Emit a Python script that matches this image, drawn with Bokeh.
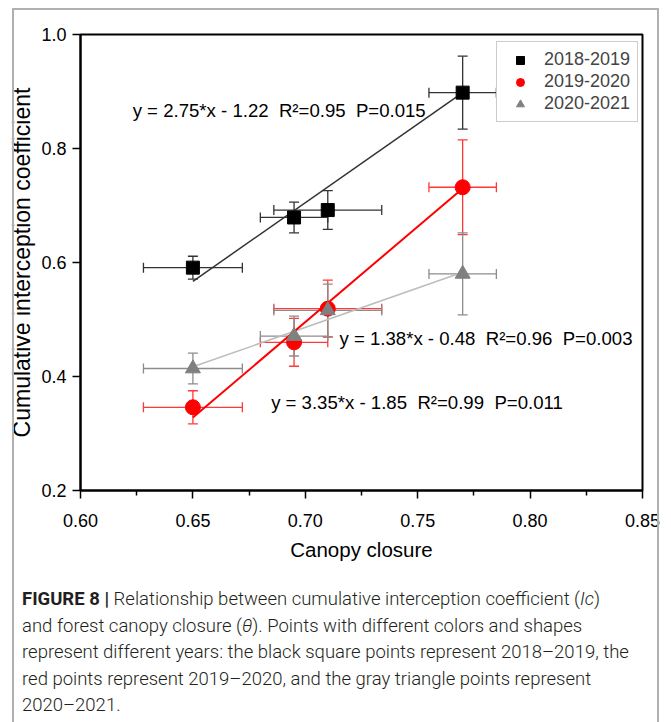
from bokeh.plotting import figure
from bokeh.models import (ColumnDataSource, Whisker, TeeHead, Label, Legend, LegendItem,
                          Div, Range1d, FixedTicker, NumeralTickFormatter)
from bokeh.layouts import column
from bokeh.embed import file_html
from bokeh.resources import INLINE

# ---------------- data ----------------
closure = [0.65, 0.695, 0.71, 0.77]
closure_err = [0.022, 0.015, 0.024, 0.015]

ic_1819 = [0.591, 0.679, 0.692, 0.898]
ic_1819_err = [0.020, 0.027, 0.034, 0.064]
ic_1920 = [0.346, 0.460, 0.519, 0.732]
ic_1920_err = [0.029, 0.042, 0.050, 0.083]
ic_2021 = [0.414, 0.471, 0.516, 0.580]
ic_2021_err = [0.027, 0.035, 0.046, 0.072]

fit_x = [0.65, 0.77]
fit_1819 = [0.567, 0.898]
fit_1920 = [0.328, 0.730]
fit_2021 = [0.417, 0.583]

series_names = ["2018-2019", "2019-2020", "2020-2021"]
NB = "\u00a0"
equations = ["y = 2.75*x - 1.22" + NB * 2 + "R\u00b2=0.95" + NB * 2 + "P=0.015",
             "y = 3.35*x - 1.85" + NB * 2 + "R\u00b2=0.99" + NB * 2 + "P=0.011",
             "y = 1.38*x - 0.48" + NB * 2 + "R\u00b2=0.96" + NB * 2 + "P=0.003"]

x_ticks = [0.60, 0.65, 0.70, 0.75, 0.80, 0.85]
x_minor = [0.625, 0.675, 0.725, 0.775, 0.825]
y_ticks = [0.2, 0.4, 0.6, 0.8, 1.0]

# ---------------- styles ----------------
FONT = "Liberation Sans"
W, H = 671, 580

p = figure(width=W, height=H, x_range=Range1d(0.6, 0.85), y_range=Range1d(0.2, 1.0),
           output_backend="svg", toolbar_location=None,
           min_border_left=80, min_border_right=29, min_border_top=34, min_border_bottom=90)
p.grid.visible = False
p.outline_line_color = "black"
p.outline_line_width = 2
p.background_fill_color = "white"
p.border_fill_color = "white"

p.xaxis.ticker = FixedTicker(ticks=x_ticks, minor_ticks=x_minor)
p.yaxis.ticker = FixedTicker(ticks=y_ticks, minor_ticks=[])
p.xaxis.formatter = NumeralTickFormatter(format="0.00")
p.yaxis.formatter = NumeralTickFormatter(format="0.0")
for ax in (p.xaxis, p.yaxis):
    ax.axis_line_width = 2
    ax.axis_line_color = "black"
    ax.major_tick_line_width = 1.5
    ax.major_tick_line_color = "black"
    ax.minor_tick_line_width = 1.5
    ax.minor_tick_line_color = "black"
    ax.major_tick_out = 8
    ax.major_tick_in = 0
    ax.minor_tick_out = 5
    ax.minor_tick_in = 0
    ax.major_label_text_font = FONT
    ax.major_label_text_font_size = "18px"
    ax.major_label_text_color = "black"
    ax.axis_label_text_font = FONT
    ax.axis_label_text_font_style = "normal"
    ax.axis_label_text_color = "black"
p.xaxis.axis_label = "Canopy closure"
p.yaxis.axis_label = "Cumulative interception coefficient"
p.xaxis.axis_label_text_font_size = "20.5px"
p.yaxis.axis_label_text_font_size = "23px"
p.xaxis.major_label_standoff = 15
p.yaxis.major_label_standoff = 6
p.xaxis.axis_label_standoff = 8
p.yaxis.axis_label_standoff = 3

# ---------------- fit lines ----------------
p.line(fit_x, fit_1819, line_color="#333333", line_width=1.5)
p.line(fit_x, fit_2021, line_color="#bdbdbd", line_width=1.5)
p.line(fit_x, fit_1920, line_color="#ff0000", line_width=2)

# ---------------- error bars + points ----------------
specs = [
    (ic_1819, ic_1819_err, "#333333", "black", "square", 13),
    (ic_1920, ic_1920_err, "#ff3838", "#ff0000", "circle", 15),
    (ic_2021, ic_2021_err, "#8c8c8c", "#808080", "triangle", 15),
]
renderers = []
for ys, yerr, ecol, mcol, marker, size in specs:
    src = ColumnDataSource(dict(
        x=closure, y=ys,
        ylo=[a - b for a, b in zip(ys, yerr)], yhi=[a + b for a, b in zip(ys, yerr)],
        xlo=[a - b for a, b in zip(closure, closure_err)], xhi=[a + b for a, b in zip(closure, closure_err)],
    ))
    for dim, base, lo, hi in (("height", "x", "ylo", "yhi"), ("width", "y", "xlo", "xhi")):
        p.add_layout(Whisker(base=base, lower=lo, upper=hi, source=src, dimension=dim,
                             line_color=ecol, line_width=1.3,
                             lower_head=TeeHead(size=10, line_color=ecol, line_width=1.3),
                             upper_head=TeeHead(size=10, line_color=ecol, line_width=1.3)))
    r = p.scatter("x", "y", source=src, marker=marker, size=size,
                  fill_color=mcol, line_color=mcol)
    renderers.append(r)

# ---------------- equations ----------------
eq_pos = [(0.6232, 0.866), (0.6848, 0.354), (0.7152, 0.467)]
for (ex, ey), txt in zip(eq_pos, equations):
    p.add_layout(Label(x=ex, y=ey, text=txt, text_font=FONT, text_font_size="18.6px",
                       text_baseline="middle", text_color="black"))

# ---------------- legend ----------------
legend = Legend(items=[LegendItem(label=n, renderers=[r]) for n, r in zip(series_names, renderers)],
                location=(416, 368), padding=7, spacing=1, glyph_width=32, glyph_height=20,
                label_height=20, label_standoff=8, margin=0,
                label_text_font=FONT, label_text_font_size="18px",
                border_line_color="#999999", border_line_width=1, background_fill_alpha=1)
p.add_layout(legend)

# ---------------- caption + outer grey frame ----------------
caption_html = (
    '<div style="position:relative;width:671px;height:142px;">'
    '<div style="position:absolute;left:12px;top:-572px;width:647px;height:900px;'
    'border:2px solid #b0b0b0;pointer-events:none;z-index:5;"></div>'
    '<div style="position:absolute;left:22px;top:6px;font-family:Roboto;font-size:18.5px;'
    'font-weight:300;line-height:26.5px;color:#231f20;white-space:nowrap;">'
    '<b style="font-weight:700;">FIGURE 8 |</b> Relationship between cumulative interception coefficient (<i>Ic</i>)<br>'
    'and forest canopy closure (<i>\u03b8</i>). Points with different colors and shapes<br>'
    'represent different years: the black square points represent 2018\u20132019, the<br>'
    'red points represent 2019\u20132020, and the gray triangle points represent<br>'
    '2020\u20132021.'
    '</div></div>'
)
cap = Div(text=caption_html, width=671, height=142, margin=(0, 0, 0, 0),
          styles={"overflow": "visible"})

layout = column(p, cap, spacing=0)
open("out.html", "w").write(file_html(layout, INLINE))
